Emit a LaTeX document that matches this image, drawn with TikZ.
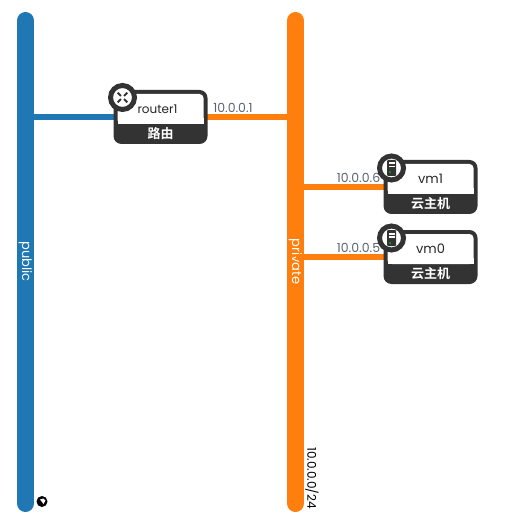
\documentclass[tikz,border=0pt]{standalone}
\usepackage{fontspec}
\setmainfont{Poppins}
\newfontfamily\cjk{Noto Sans CJK SC}[BoldFont={* Bold}]
\definecolor{netblue}{HTML}{1F77B4}
\definecolor{netorange}{HTML}{FF7F0E}
\definecolor{dev}{HTML}{333333}
\definecolor{lab}{HTML}{5A6470}
\tikzset{
  x=1pt,y=-1pt,
  netbar/.style={line width=17pt,line cap=round},
  link/.style={line width=6pt},
  netname/.style={white,font=\fontsize{13}{15}\selectfont,rotate=-90,inner sep=0pt},
  iplabel/.style={lab,font=\fontsize{12.5}{14}\selectfont,inner sep=0pt},
  devname/.style={black!85,font=\fontsize{13}{15}\selectfont,inner sep=0pt},
  devtype/.style={white,font=\cjk\bfseries\fontsize{13}{15}\selectfont,inner sep=0pt},
  badge/.style={circle,draw=dev,line width=5pt,fill=white,minimum size=24pt,inner sep=0pt},
}
\newcommand{\devbox}[6]{% name, left, top, title, kind, title x offset
  \fill[dev,rounded corners=8pt] (#2,#3) rectangle (#2+94,#3+54);
  \fill[white,rounded corners=4pt] (#2+4,#3+4) -- (#2+90,#3+4) -- (#2+90,#3+34) -- (#2+4,#3+34) -- cycle;
  \fill[white] (#2+4,#3+28) rectangle (#2+90,#3+34);
  \node[devname] (#1) at (#2+#6,#3+19) {#4};
  \node[devtype] (#1type) at (#2+47,#3+43.5) {#5};
}
\begin{document}
\begin{tikzpicture}
\useasboundingbox (0,0) rectangle (508,526);
\coordinate (pubtop) at (25.5,20.5);
\coordinate (pubbot) at (25.5,503.5);
\coordinate (pritop) at (295.5,20.5);
\coordinate (pribot) at (295.5,503.5);
\draw[netbar,netblue] (pubtop) -- (pubbot);
\draw[netbar,netorange] (pritop) -- (pribot);
\node[netname] (public) at (25.5,261.5) {public};
\node[netname] (private) at (295.5,261.5) {private};
\node[rotate=-90,inner sep=0pt,anchor=west,font=\fontsize{12}{14}\selectfont,black] (cidr) at (312,447) {10.0.0.0/24};
% globe mark
\node[circle,fill=black,minimum size=11pt,inner sep=0pt] (globe) at (42,501.5) {};
\fill[white] (40,499.5) -- (43.5,498.5) -- (45.5,500.5) -- (43.5,504) -- (42,502) -- cycle;
% links
\coordinate (pubr) at (25.5,116.8);
\coordinate (prir) at (295.5,116.8);
\coordinate (priv1) at (295.5,186.8);
\coordinate (priv0) at (295.5,256.8);
\draw[link,netblue] (pubr) -- (116,116.8);
\draw[link,netorange] (205,116.8) -- (prir);
\draw[link,netorange] (priv1) -- (386,186.8);
\draw[link,netorange] (priv0) -- (386,256.8);
% boxes
\devbox{router}{113.5}{90}{\fontsize{12}{14}\selectfont router1}{路由}{44}
\devbox{vmone}{383.5}{160}{vm1}{云主机}{47}
\devbox{vmzero}{383.5}{230}{vm0}{云主机}{47}
% ip labels
\node[iplabel] (ipr) at (233,107.5) {10.0.0.1};
\node[iplabel] (ip1) at (358.5,177.5) {10.0.0.6};
\node[iplabel] (ip0) at (358.5,247.5) {10.0.0.5};
% badges
\node[badge] (rb) at (122.5,97.5) {};
\foreach \a in {45,135,225,315}{
  \draw[dev,line width=1.8pt] (122.5,97.5) ++(\a:2.2) -- ++(\a:4.6);
}
\foreach \c/\n in {168/v1,238/v0}{
  \node[badge] (\n) at (391.5,\c) {};
  \fill[dev,rounded corners=1pt] (387,\c-8) rectangle (396,\c+8);
  \fill[white] (388.5,\c-5.5) rectangle (394.5,\c-3.5);
  \fill[white] (388.5,\c-2) rectangle (394.5,\c-0.5);
  \fill[green!60!black] (388.7,\c+3.5) rectangle (390.7,\c+5.5);
}
\end{tikzpicture}
\end{document}
